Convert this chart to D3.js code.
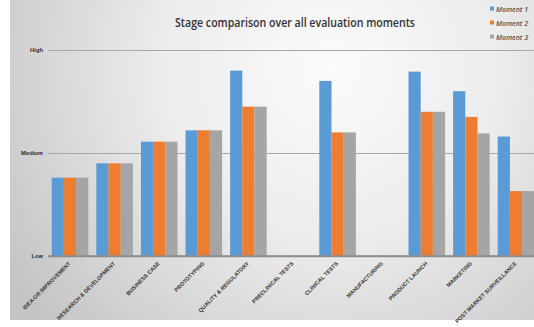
<!DOCTYPE html>
<html>
<head>
<meta charset="utf-8">
<script src="https://cdn.jsdelivr.net/npm/d3@7"></script>
<style>
  html, body { margin: 0; padding: 0; background: #ffffff; }
  svg { display: block; }
</style>
</head>
<body>
<svg id="chart" width="534" height="327"></svg>
<script>
// Stages of the development trajectory
const categories = [
  "IDEA OR IMPROVEMENT",
  "RESEARCH & DEVELOPMENT",
  "BUSINESS CASE",
  "PROTOTYPING",
  "QUALITY & REGULATORY",
  "PRECLINICAL TESTS",
  "CLINICAL TESTS",
  "MANUFACTURING",
  "PRODUCT LAUNCH",
  "MARKETING",
  "POST MARKET SURVEILLANCE"
];

// Scores per evaluation moment (0 = Low, 50 = Medium, 100 = High); null = not scored
const moment1 = [38, 45, 55.5, 61, 90, null, 85, null, 89.5, 80, 58];
const moment2 = [38, 45, 55.5, 61, 72.5, null, 60, null, 70, 67.5, 31.5];
const moment3 = [38, 45, 55.5, 61, 72.5, null, 60, null, 70, 59.5, 31.5];

const seriesNames = ["Moment 1", "Moment 2", "Moment 3"];
const seriesValues = [moment1, moment2, moment3];
const seriesColors = ["#5b9bd5", "#ed7d31", "#a5a5a5"];

const tickValues = [0, 50, 100];
const tickLabels = ["Low", "Medium", "High"];

const svg = d3.select("#chart");
const W = 534, H = 327;

// Panel background with a soft radial shading
const defs = svg.append("defs");
const grad = defs.append("radialGradient")
  .attr("id", "bg")
  .attr("gradientUnits", "userSpaceOnUse")
  .attr("cx", 330).attr("cy", 70).attr("r", 380);
grad.append("stop").attr("offset", "0%").attr("stop-color", "#fbfbfb");
grad.append("stop").attr("offset", "45%").attr("stop-color", "#ececec");
grad.append("stop").attr("offset", "100%").attr("stop-color", "#c4c4c4");

svg.append("rect").attr("x", 0).attr("y", 0).attr("width", W).attr("height", H).attr("fill", "#ffffff");
svg.append("rect").attr("x", 10).attr("y", 0).attr("width", W - 10).attr("height", 320).attr("fill", "url(#bg)");

// Scales
const x0 = d3.scaleBand()
  .domain(categories)
  .range([47.7, 538.3])
  .paddingInner(0.18)
  .paddingOuter(0.09);

const x1 = d3.scaleBand()
  .domain(seriesNames)
  .range([0, x0.bandwidth()]);

const y = d3.scaleLinear().domain([0, 100]).range([256, 50]);

// Horizontal gridlines
const yAxis = d3.axisLeft(y)
  .tickValues(tickValues)
  .tickSize(-(W - 48))
  .tickFormat((d, i) => tickLabels[i]);

const gy = svg.append("g").attr("transform", "translate(48,0)").call(yAxis);
gy.select(".domain").remove();
gy.selectAll(".tick line")
  .attr("stroke", (d) => d === 0 ? "#8c8c8c" : "#a8a8a8")
  .attr("stroke-width", (d) => d === 0 ? 1.6 : 1.2);
gy.selectAll(".tick text")
  .attr("x", -5)
  .attr("fill", "#2a2a2a")
  .style("font-family", "'Liberation Sans Narrow', 'Liberation Sans', sans-serif")
  .style("font-weight", "bold")
  .style("font-size", "5.8px");

// Bars
const groups = svg.append("g")
  .selectAll("g")
  .data(categories)
  .join("g")
  .attr("transform", (d) => `translate(${x0(d)},0)`);

groups.selectAll("rect")
  .data((d, ci) => seriesNames.map((s, si) => ({ s, v: seriesValues[si][ci], c: seriesColors[si] })).filter(e => e.v != null))
  .join("rect")
  .attr("x", (d) => x1(d.s))
  .attr("width", x1.bandwidth())
  .attr("y", (d) => y(d.v))
  .attr("height", (d) => y(0) - y(d.v))
  .attr("fill", (d) => d.c);

// Redraw the baseline on top of the bars
svg.append("line")
  .attr("x1", 48).attr("x2", W)
  .attr("y1", y(0)).attr("y2", y(0))
  .attr("stroke", "#8c8c8c").attr("stroke-width", 1.6);

// Category labels (rotated)
const xAxis = d3.axisBottom(x0).tickSize(0).tickPadding(0);
const gx = svg.append("g").attr("transform", `translate(0,${y(0)})`).call(xAxis);
gx.select(".domain").remove();
gx.selectAll(".tick text")
  .attr("text-anchor", "end")
  .attr("dy", 0)
  .attr("transform", "translate(1,8) rotate(-45)")
  .attr("fill", "#333333")
  .style("font-family", "'Liberation Sans Narrow', 'Liberation Sans', sans-serif")
  .style("font-weight", "bold")
  .style("font-size", "5.5px");

// Title
svg.append("text")
  .attr("x", 295).attr("y", 27)
  .attr("text-anchor", "middle")
  .attr("textLength", 240)
  .attr("lengthAdjust", "spacingAndGlyphs")
  .attr("fill", "#333333")
  .style("font-family", "'Open Sans', sans-serif")
  .style("font-weight", "600")
  .style("font-size", "13px")
  .text("Stage comparison over all evaluation moments");

// Legend
const legend = svg.append("g");
seriesNames.forEach((name, i) => {
  const ly = 9 + i * 14;
  legend.append("rect")
    .attr("x", 490).attr("y", ly - 2.5)
    .attr("width", 4).attr("height", 4)
    .attr("fill", seriesColors[i]);
  legend.append("text")
    .attr("x", 496).attr("y", ly + 2.5)
    .attr("textLength", 32)
    .attr("lengthAdjust", "spacingAndGlyphs")
    .attr("fill", "#505050")
    .style("font-family", "'Open Sans', sans-serif")
    .style("font-style", "italic")
    .style("font-weight", "600")
    .style("font-size", "7px")
    .text(name);
});
</script>
</body>
</html>
